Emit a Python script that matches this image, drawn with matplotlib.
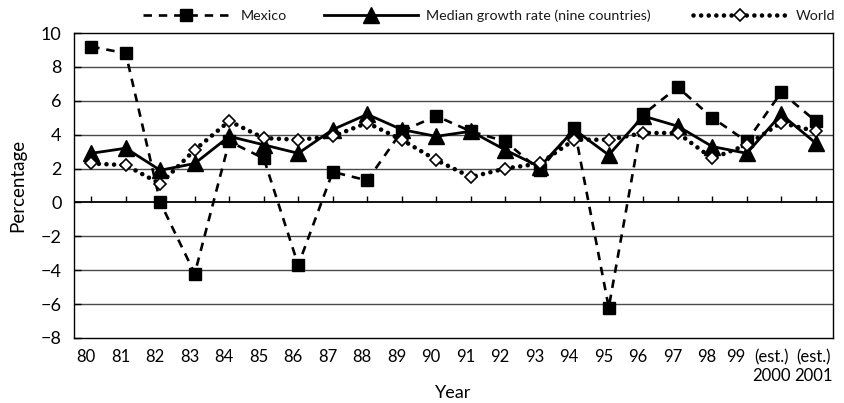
import numpy as np
import matplotlib
matplotlib.use("Agg")
import matplotlib.pyplot as plt
import matplotlib.transforms as mtransforms

plt.rcParams['font.family'] = ['Lato', 'DejaVu Sans']

# annual GDP growth, percent
years = ['80', '81', '82', '83', '84', '85', '86', '87', '88', '89', '90',
         '91', '92', '93', '94', '95', '96', '97', '98', '99',
         '(est.)\n2000', '(est.)\n2001']
mexico = [9.2, 8.8, 0.0, -4.2, 3.6, 2.6, -3.7, 1.8, 1.3, 4.2, 5.1,
          4.2, 3.6, 1.9, 4.4, -6.2, 5.2, 6.8, 5.0, 3.6, 6.5, 4.8]
median = [2.9, 3.2, 1.9, 2.3, 3.9, 3.4, 2.9, 4.3, 5.2, 4.3, 3.9,
          4.2, 3.1, 2.1, 4.3, 2.8, 5.1, 4.5, 3.3, 2.9, 5.2, 3.5]
world = [2.3, 2.2, 1.1, 3.1, 4.8, 3.8, 3.7, 3.9, 4.7, 3.7, 2.5,
         1.5, 2.0, 2.3, 3.7, 3.7, 4.1, 4.1, 2.6, 3.4, 4.7, 4.2]
yticks = [-8, -6, -4, -2, 0, 2, 4, 6, 8, 10]

x = np.arange(len(years))

fig = plt.figure(figsize=(8.45, 4.03), dpi=100)
ax = fig.add_axes([74 / 845, 65 / 403, 759 / 845, 305 / 403])

# horizontal grid, zero line drawn separately
for v in yticks:
    if v == 0:
        ax.axhline(v, color='black', lw=1.3, zorder=1)
    elif v not in (yticks[0], yticks[-1]):
        ax.axhline(v, color='#4a4a4a', lw=1.0, zorder=1)

# category ticks sit on the zero line, pointing up
ax.vlines(x, 0, 0.4, color='black', lw=1.0, zorder=1)

l_mex, = ax.plot(x, mexico, color='black', lw=1.9, dashes=(3.2, 2.6),
                 marker='s', ms=8, mfc='black', mec='black', zorder=3,
                 label='Mexico')
l_med, = ax.plot(x, median, color='black', lw=2.0, ls='-',
                 marker='^', ms=11, mfc='black', mec='black', zorder=4,
                 label='Median growth rate (nine countries)')
l_wld, = ax.plot(x, world, color='black', lw=3.3, ls=(0, (0.01, 1.65)),
                 dash_capstyle='round', marker='D', ms=6.3, mfc='white',
                 mec='black', mew=1.2, zorder=5, label='World')

ax.set_xlim(-0.5, len(years) - 0.5)
ax.set_ylim(yticks[0], yticks[-1])
ax.set_yticks(yticks)
ax.set_xticks(x)
ax.set_xticklabels(years, fontsize=12, linespacing=1.2)
ax.tick_params(axis='x', length=0, pad=8)
ax.tick_params(axis='y', direction='in', length=5, width=1, pad=9,
               labelsize=13)

# nudge the category labels left; the last few get their own shift so
# the wide estimate labels don't run into their neighbours
shifts = [-5] * (len(years) - 3) + [-11, -10, -2]
for lab, dx in zip(ax.get_xticklabels(), shifts):
    lab.set_transform(lab.get_transform() +
                      mtransforms.ScaledTranslation(dx / 100, 0, fig.dpi_scale_trans))

for s in ax.spines.values():
    s.set_linewidth(1.0)
    s.set_color('black')

ax.set_xlabel('Year', fontsize=13, labelpad=1)
ax.set_ylabel('Percentage', fontsize=13.5, labelpad=10)

# legend entries placed individually along the top
legend_specs = [
    (l_mex, 143 / 845, 6.0, 0.8),
    (l_med, 324 / 845, 6.6, 0.5),
    (l_wld, 693 / 845, 6.6, 0.6),
]
for line, xpos, hlen, tpad in legend_specs:
    leg = fig.legend(handles=[line], loc='center left',
                     bbox_to_anchor=(xpos, 1 - 16 / 403),
                     frameon=False, borderpad=0, borderaxespad=0,
                     handlelength=hlen, handletextpad=tpad, numpoints=1,
                     fontsize=10.3)
    for t in leg.get_texts():
        t.set_color('#1a1a1a')

fig.savefig('out.png', dpi=100)
